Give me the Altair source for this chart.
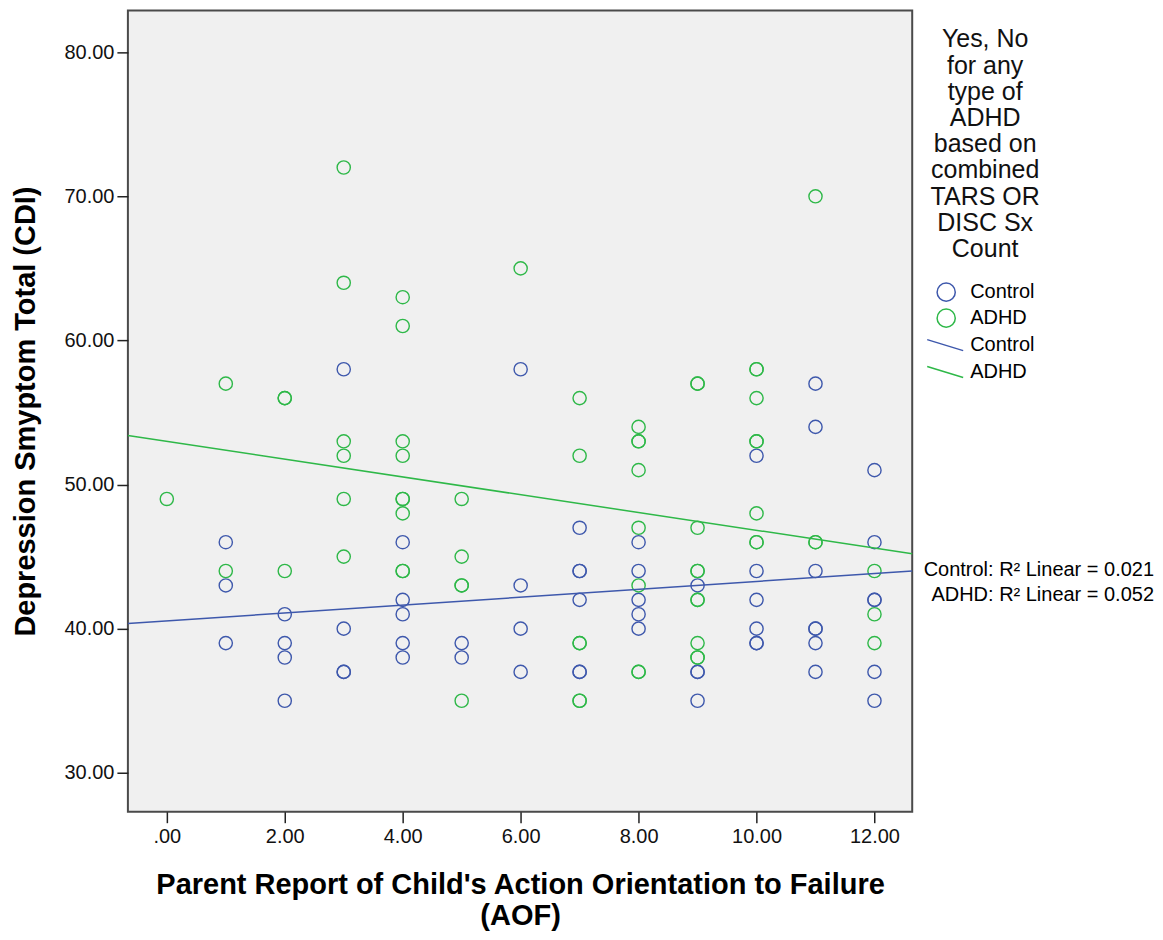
import altair as alt
import pandas as pd

# ---- data ----
control_x = [1, 1, 1,
             2, 2, 2, 2,
             3, 3, 3, 3,
             4, 4, 4, 4, 4,
             5, 5,
             6, 6, 6, 6,
             7, 7, 7, 7, 7, 7,
             8, 8, 8, 8, 8,
             9, 9, 9, 9,
             10, 10, 10, 10, 10, 10,
             11, 11, 11, 11, 11, 11, 11,
             12, 12, 12, 12, 12, 12]
control_y = [46, 43, 39,
             41, 39, 38, 35,
             58, 40, 37, 37,
             46, 42, 41, 39, 38,
             39, 38,
             58, 43, 40, 37,
             47, 44, 44, 42, 37, 37,
             46, 44, 42, 41, 40,
             43, 37, 37, 35,
             52, 44, 42, 40, 39, 39,
             57, 54, 44, 40, 40, 39, 37,
             51, 46, 42, 42, 37, 35]

adhd_x = [0,
          1, 1,
          2, 2, 2,
          3, 3, 3, 3, 3, 3,
          4, 4, 4, 4, 4, 4, 4, 4, 4,
          5, 5, 5, 5, 5,
          6,
          7, 7, 7, 7, 7, 7,
          8, 8, 8, 8, 8, 8, 8, 8,
          9, 9, 9, 9, 9, 9, 9, 9, 9, 9,
          10, 10, 10, 10, 10, 10, 10, 10,
          11, 11, 11,
          12, 12, 12]
adhd_y = [49,
          57, 44,
          56, 56, 44,
          72, 64, 53, 52, 49, 45,
          63, 61, 53, 52, 49, 49, 48, 44, 44,
          49, 45, 43, 43, 35,
          65,
          56, 52, 39, 39, 35, 35,
          54, 53, 53, 51, 47, 43, 37, 37,
          57, 57, 47, 44, 44, 42, 42, 39, 38, 38,
          58, 58, 56, 53, 53, 48, 46, 46,
          70, 46, 46,
          44, 41, 39]

groups = ["Control", "ADHD"]
colors = ["#3E58AC", "#2EB848"]

# fit lines: end values at the plot edges
fit_x = [-0.66, 12.64]
control_fit_y = [40.36, 44.0]
adhd_fit_y = [53.4, 45.2]

r2_labels = ["Control: R\u00b2 Linear = 0.021", "ADHD: R\u00b2 Linear = 0.052"]
r2_y = [44.1, 42.35]

x_ticks = [0, 2, 4, 6, 8, 10, 12]
y_ticks = [30, 40, 50, 60, 70, 80]

legend_title = ["Yes, No", "for any", "type of", "ADHD", "based on",
                "combined", "TARS OR", "DISC Sx", "Count"]

FONT = "Liberation Sans"

points = pd.DataFrame({
    "x": control_x + adhd_x,
    "y": control_y + adhd_y,
    "group": ["Control"] * len(control_x) + ["ADHD"] * len(adhd_x),
})
fits = pd.DataFrame({
    "x": fit_x + fit_x,
    "y": control_fit_y + adhd_fit_y,
    "group": ["Control"] * 2 + ["ADHD"] * 2,
})
r2 = pd.DataFrame({"y": r2_y, "label": r2_labels})

xs = alt.Scale(domain=[-0.66, 12.64], nice=False, zero=False)
ys = alt.Scale(domain=[27.3, 82.9], nice=False, zero=False)

x_enc = alt.X("x:Q", scale=xs,
              title=["Parent Report of Child's Action Orientation to Failure", "(AOF)"],
              axis=alt.Axis(values=x_ticks,
                            labelExpr="datum.value == 0 ? '.00' : format(datum.value, '.2f')"))
y_enc = alt.Y("y:Q", scale=ys, title="Depression Smyptom Total (CDI)",
              axis=alt.Axis(values=y_ticks, format=".2f"))

pts = alt.Chart(points).mark_point(
    shape="circle", filled=False, size=175, strokeWidth=1.4, opacity=1
).encode(
    x=x_enc, y=y_enc,
    color=alt.Color("group:N", scale=alt.Scale(domain=groups, range=colors),
                    title=legend_title,
                    legend=alt.Legend(orient="none", legendX=803, legendY=17,
                                      symbolType="circle", symbolSize=330,
                                      symbolStrokeWidth=1.5,
                                      titleFontSize=25, titleFontWeight="normal",
                                      titleLineHeight=26.25, titleAlign="center",
                                      titleAnchor="middle", titlePadding=20,
                                      labelFontSize=20, labelOffset=14,
                                      rowPadding=0, titleFont=FONT, labelFont=FONT,
                                      titleColor="#111", labelColor="#000")),
)

lines = alt.Chart(fits).mark_line(strokeWidth=1.5).encode(
    x=x_enc, y=y_enc,
    color=alt.Color("group:N", scale=alt.Scale(domain=groups, range=colors),
                    title=None,
                    legend=alt.Legend(orient="none", legendX=807, legendY=324,
                                      symbolType="M-1.8,-0.55L1.8,0.55",
                                      symbolSize=400, symbolStrokeWidth=1.5,
                                      labelFontSize=20, labelOffset=14,
                                      rowPadding=6, labelFont=FONT,
                                      labelColor="#000")),
)

texts = alt.Chart(r2).mark_text(
    align="right", baseline="middle", fontSize=20, font=FONT, color="#000"
).encode(
    x=alt.value(1027), y=y_enc, text="label:N"
)

chart = alt.layer(pts, lines, texts).resolve_scale(color="independent").properties(
    width=785, height=802,
    autosize=alt.AutoSizeParams(type="none"),
    padding={"left": 120, "top": 2, "right": 243, "bottom": 120},
).configure_view(
    fill="#f0f0f0", stroke="#4a4a4a", strokeWidth=2
).configure_axis(
    domain=False, ticks=True, tickColor="#222", tickWidth=1.5, tickSize=11,
    labelFont=FONT, labelFontSize=20, labelColor="#111",
    titleFont=FONT, titleFontSize=29, titleFontWeight="bold", titleColor="#000",
    grid=False,
).configure_axisX(
    labelPadding=4, titlePadding=24, titleLineHeight=31
).configure_axisY(
    labelPadding=3, titlePadding=23
)

chart.save("out.html", embed_options={"renderer": "svg", "actions": False})
